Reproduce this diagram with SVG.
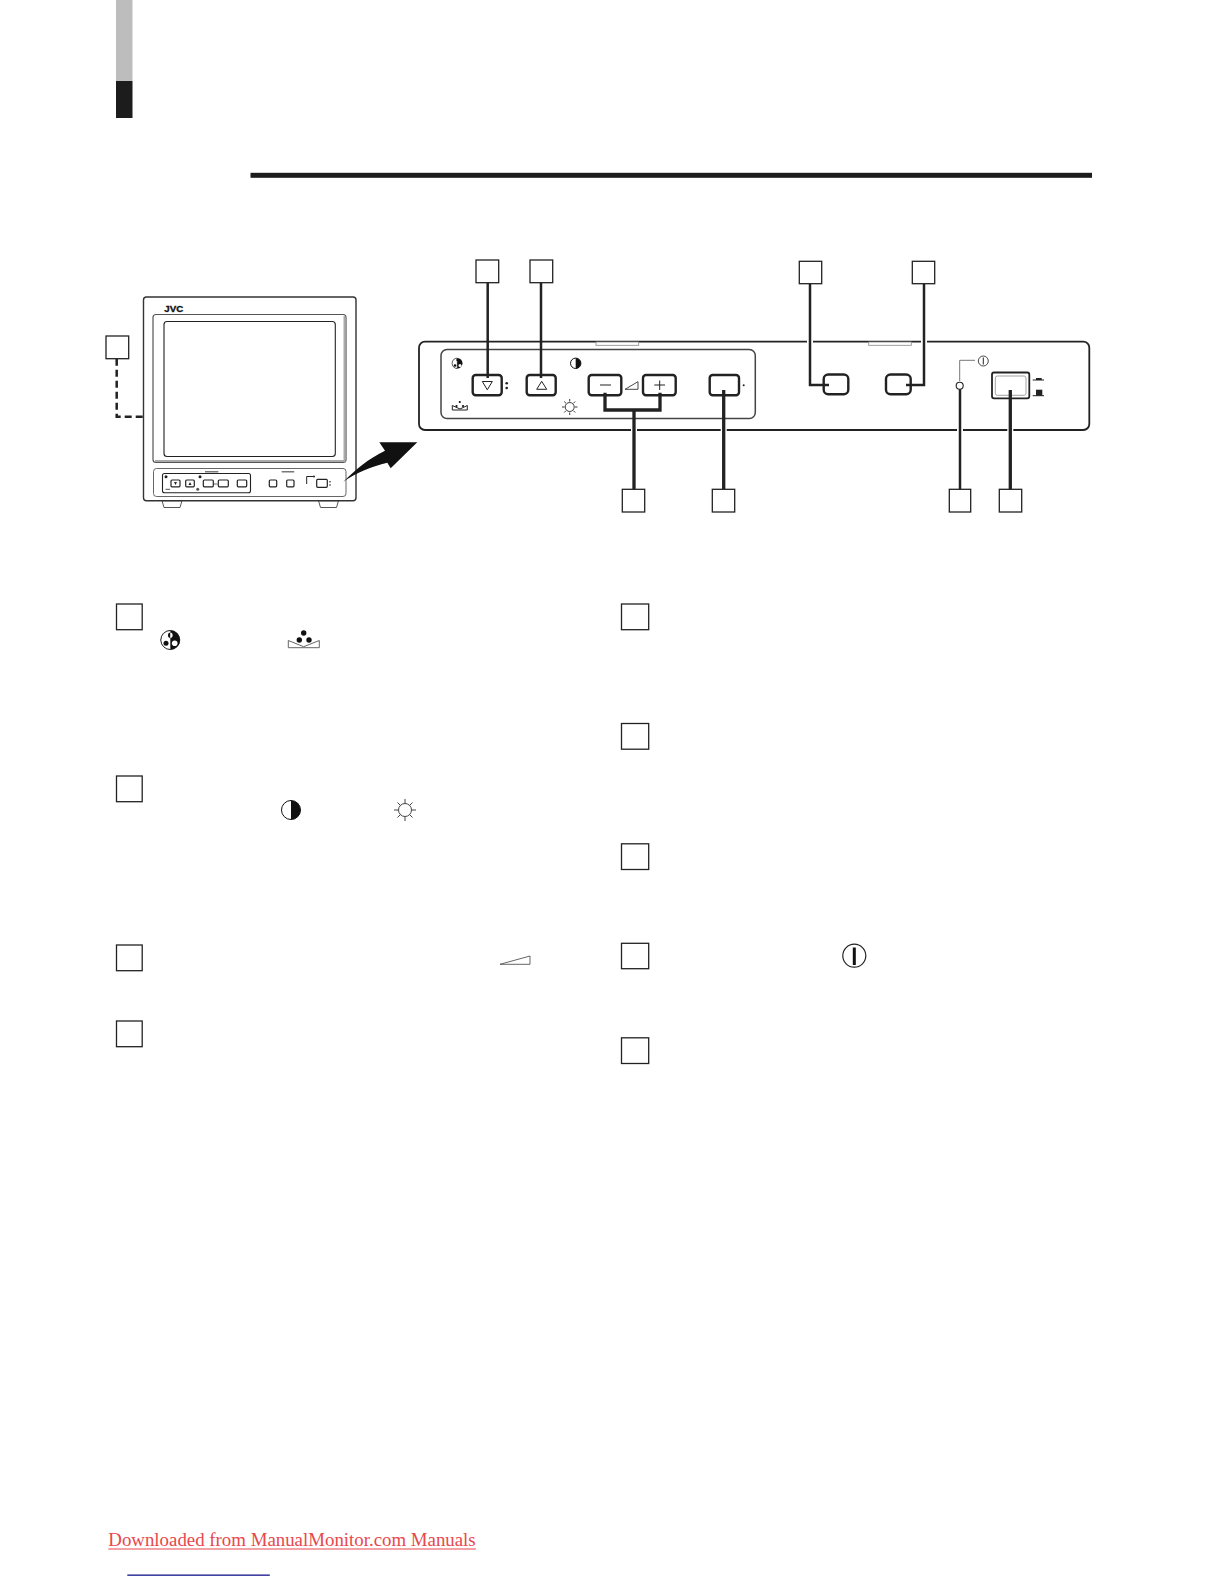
<svg xmlns="http://www.w3.org/2000/svg" width="1224" height="1584" viewBox="0 0 1224 1584">
<style>
.box{fill:#fff;stroke:#222;stroke-width:1.3}
.ld{fill:none;stroke:#222;stroke-width:2.5}
.ldb{fill:none;stroke:#222;stroke-width:3.3}
.halo{fill:none;stroke:#fff;stroke-width:6}
.btn{fill:#fff;stroke:#222;stroke-width:2.4}
.thin{fill:none;stroke:#222;stroke-width:1}
.sbtn{fill:#fff;stroke:#222;stroke-width:1.2}
</style>
<rect width="1224" height="1584" fill="#fff"/>
<g id="side-tab"><rect x="116" y="0" width="16.500" height="81" fill="#bdbdbd"/><rect x="116" y="81" width="16.500" height="37" fill="#1c1c1c"/></g>
<rect id="title-rule" x="250.500" y="172.800" width="841.500" height="5" fill="#1c1c1c"/>

<g id="monitor">
<path d="M162 500.700L164 507.500H180L182 500.700Z" fill="#fff" stroke="#555"/>
<path d="M318.500 500.700L320.500 507.500H336.500L338.500 500.700Z" fill="#fff" stroke="#555"/>
<rect x="143.500" y="297" width="212.500" height="203.700" rx="3" fill="#fff" stroke="#333" stroke-width="1.400"/>
<text x="164.300" y="312" font-family="'Liberation Sans',sans-serif" font-weight="bold" font-size="8.600" textLength="19" lengthAdjust="spacingAndGlyphs" fill="#111" stroke="#111" stroke-width=".3">JVC</text>
<rect x="153" y="314.500" width="193" height="148" rx="3" fill="#fff" stroke="#555" stroke-width="1.200"/>
<path d="M344.500 316V461H155" fill="none" stroke="#aaa" stroke-width="2"/>
<rect x="164" y="321.500" width="171.300" height="135" rx="3" fill="#fff" stroke="#222" stroke-width="1.100"/>
<rect x="153.500" y="468.500" width="192.500" height="28" rx="3" fill="#fff" stroke="#666" stroke-width="1"/>
<rect x="162.500" y="473.500" width="88" height="19.200" rx="2" fill="#fff" stroke="#222" stroke-width="1.100"/>
<rect x="205" y="471" width="13.300" height="1.500" fill="#777"/><rect x="281.700" y="471" width="12.500" height="1.500" fill="#777"/>
<rect x="171" y="480" width="9" height="6.800" rx="1" class="sbtn"/><rect x="185.700" y="480" width="8.600" height="6.800" rx="1" class="sbtn"/>
<path d="M174 482h3l-1.500 3ZM188.500 485h3l-1.500-3Z" fill="#222"/>
<rect x="203.300" y="480" width="10" height="6.800" rx="1" class="sbtn"/><rect x="218.300" y="480" width="10" height="6.800" rx="1" class="sbtn"/><rect x="237.300" y="480" width="9.400" height="6.800" rx="1" class="sbtn"/>
<path d="M214 484h3.500" stroke="#444" stroke-width=".8"/>
<rect x="269.300" y="480" width="7.400" height="6.800" rx="1" class="sbtn"/><rect x="286.700" y="480" width="7.300" height="6.800" rx="1" class="sbtn"/>
<rect x="316.700" y="479.300" width="10.600" height="8" rx="1" class="sbtn"/>
<path d="M306.700 484V476.500H313" class="thin" stroke-width=".8"/>
<circle cx="314" cy="476.500" r="1" fill="#222"/><circle cx="330" cy="481.700" r=".8" fill="#222"/><circle cx="330" cy="485" r=".8" fill="#222"/>
<circle cx="166" cy="476.700" r="1.500" fill="#222"/><circle cx="200" cy="476.700" r="1.500" fill="#222"/><circle cx="197.700" cy="489.300" r="1.500" fill="#555"/>
<rect x="165.500" y="488.800" width="4.500" height="1" fill="#555"/>
</g>
<path id="zoom-arrow" d="M343.300 481.700C355 470 368 459 385 450.700L379.300 442.300 417.300 442.300 390.700 468.300 387.300 462.700C372 466 356 473 343.300 481.700Z" fill="#111"/>

<g id="panel">
<rect x="419" y="341.700" width="670.300" height="88.300" rx="6" fill="#fff" stroke="#222" stroke-width="1.800"/>
<rect x="596" y="342" width="42.700" height="3.300" fill="#fff" stroke="#888" stroke-width=".8"/>
<rect x="868.700" y="342" width="42.600" height="3.300" fill="#fff" stroke="#888" stroke-width=".8"/>
<rect x="441" y="349.500" width="314.300" height="69" rx="6" fill="#fff" stroke="#444" stroke-width="1.500"/>
<circle cx="457.300" cy="363.300" r="5.200" fill="#111"/><path d="M457.300 358.100a5.200 5.200 0 0 0 0 10.400Z" fill="#fff" stroke="#111" stroke-width=".6"/><circle cx="457.500" cy="360" r="1.200" fill="#111"/><circle cx="455" cy="365.500" r="1.300" fill="#111"/><circle cx="460" cy="365.500" r="1.500" fill="#fff"/>
<circle cx="575.700" cy="363.300" r="5.200" fill="#fff" stroke="#111" stroke-width="1"/><path d="M575.700 358.100a5.200 5.200 0 0 1 0 10.400Z" fill="#111"/>
<path d="M452.300 405.500L460 409 467.300 405.500M452.300 405.500V410H467.300V405.500" class="thin" stroke-width=".8"/><circle cx="459.800" cy="402" r="1.100" fill="#111"/><circle cx="456.500" cy="406" r="1.100" fill="#111"/><circle cx="463" cy="406" r="1.100" fill="#111"/>
<g id="sun-small" stroke="#222" stroke-width=".9"><circle cx="569.700" cy="407" r="4.500" fill="none"/><path d="M569.700 399v2.500M569.700 412.500v2.500M562 407h2.500M575 407h2.500M564.200 401.500l1.800 1.800M573.400 410.700l1.800 1.800M575.200 401.500l-1.800 1.800M566 410.700l-1.800 1.800"/></g>
<rect x="472.700" y="375" width="29" height="20.300" rx="3" class="btn"/>
<rect x="526.700" y="375" width="29" height="20.300" rx="3" class="btn"/>
<rect x="588.700" y="375" width="32.600" height="20.300" rx="3" class="btn"/>
<rect x="643" y="375" width="32.700" height="20.300" rx="3" class="btn"/>
<rect x="709.700" y="375" width="29.300" height="20.300" rx="3" class="btn"/>
<path d="M482.300 381.500h10l-5 8.300Z" class="thin"/>
<path d="M536.700 389.300h10l-5-8Z" class="thin"/>
<path d="M600 385h11M654.300 385h10.700M659.700 380.500v9.500" class="thin" stroke-width="1.300"/>
<path d="M625 389.300h13v-7.600Z" fill="#fff" stroke="#333" stroke-width=".9"/>
<circle cx="506.700" cy="383.300" r="1.300" fill="#222"/><circle cx="506.700" cy="388" r="1.300" fill="#222"/><circle cx="743.700" cy="385.300" r="1" fill="#222"/>
<rect x="823.700" y="374.500" width="24.600" height="19.800" rx="4.500" class="btn"/>
<rect x="886" y="374.500" width="24.700" height="19.800" rx="4.500" class="btn"/>
<path d="M975 360.300H959.700V381" fill="none" stroke="#777" stroke-width="1"/>
<circle cx="983.300" cy="361" r="5" fill="#fff" stroke="#333" stroke-width=".9"/><path d="M983.300 357.500v7" stroke="#222" stroke-width="1"/>
<rect x="992" y="372.500" width="37.300" height="25.800" rx="2" fill="#fff" stroke="#222" stroke-width="1.800"/>
<rect x="995.300" y="376" width="30.700" height="19.300" rx="2" fill="none" stroke="#999" stroke-width=".9"/>
<path d="M1032.700 380h11.300" stroke="#222" stroke-width="1"/><rect x="1036" y="378" width="5.700" height="2" fill="#222"/>
<path d="M1032.700 395.700h11.300" stroke="#222" stroke-width="1"/><rect x="1036" y="389.700" width="6.300" height="6" fill="#222"/>
</g>

<g id="connectors">
<path d="M116.700 358.700V416.700H142.700" fill="none" stroke="#222" stroke-width="2.500" stroke-dasharray="7 4"/>
<path d="M810 338V346M924 338V346M960 426V434M1010.300 426V434M634 426V434M723.700 426V434" class="halo"/>
<path d="M487.700 282.700V378" class="ld"/>
<path d="M541 282.700V378" class="ld"/>
<path d="M605 392.700V410H660V392.700M634 410V489.300" class="ldb" stroke-width="3"/>
<path d="M723.700 390V489.300" class="ldb"/>
<path d="M810 283.700V385H829" class="ld"/>
<path d="M924 283.700V385H906" class="ld"/>
<circle cx="959.700" cy="385.700" r="3.500" fill="#fff" stroke="#222" stroke-width="1.100"/>
<path d="M960 389.200V489.300" class="ld"/>
<path d="M1010.300 390V489.300" class="ldb"/>
</g>

<g id="callouts">
<rect id="c1" x="106" y="336" width="22.700" height="22.700" class="box"/>
<rect id="c2" x="476" y="260" width="22.700" height="22.700" class="box"/>
<rect id="c3" x="530" y="260" width="22.700" height="22.700" class="box"/>
<rect id="c4" x="799.300" y="261.300" width="22.400" height="22.400" class="box"/>
<rect id="c5" x="912.300" y="261.300" width="22.400" height="22.400" class="box"/>
<rect id="c6" x="622.300" y="489.300" width="22.400" height="22.700" class="box"/>
<rect id="c7" x="712.300" y="489.300" width="22.400" height="22.700" class="box"/>
<rect id="c8" x="949.300" y="489.300" width="21.400" height="22.700" class="box"/>
<rect id="c9" x="999.300" y="489.300" width="22.400" height="22.700" class="box"/>
</g>

<g id="list-left">
<rect x="116.500" y="604" width="25.700" height="25.700" class="box"/>
<rect x="116.500" y="776" width="25.700" height="25.700" class="box"/>
<rect x="116.500" y="945" width="25.700" height="25.700" class="box"/>
<rect x="116.500" y="1021" width="25.700" height="25.700" class="box"/>
<g id="icon-color"><circle cx="170.300" cy="640" r="9.700" fill="#111"/><path d="M170.300 630.600a9.400 9.400 0 0 0 0 18.800Z" fill="#fff"/><circle cx="170.300" cy="640" r="9.500" fill="none" stroke="#111" stroke-width=".8"/><path d="M170.300 632.500a2.300 2.800 0 0 0 0 5.600Z" fill="#111"/><path d="M170.300 632.500a2.300 2.800 0 0 1 0 5.600Z" fill="#fff"/><circle cx="166" cy="643.300" r="2.500" fill="#111"/><circle cx="174.700" cy="643.300" r="2.800" fill="#fff"/></g>
<g id="icon-tint"><path d="M288.300 647.700V640.500L303.700 646.700 319.300 640.500V647.700Z" fill="#fff" stroke="#666" stroke-width="1"/><circle cx="303.700" cy="633" r="2.700" fill="#111"/><circle cx="299.300" cy="640" r="2.700" fill="#111"/><circle cx="309" cy="640" r="2.700" fill="#111"/></g>
<g id="icon-contrast"><circle cx="291" cy="810" r="9.500" fill="#fff" stroke="#111" stroke-width="1"/><path d="M291 800.500a9.500 9.500 0 0 1 0 19Z" fill="#111"/></g>
<g id="icon-bright" stroke="#444" stroke-width="1"><circle cx="405" cy="810" r="6.500" fill="#fff"/><path d="M405 799v4M405 817v4M394 810h4M412 810h4M397.500 802.500l3 3M409.500 814.500l3 3M412.500 802.500l-3 3M400.500 814.500l-3 3"/></g>
<path id="icon-volume" d="M500 964.300L530 956V964.300Z" fill="#fff" stroke="#555" stroke-width=".9"/>
</g>

<g id="list-right">
<rect x="621.500" y="604" width="27.200" height="25.700" class="box"/>
<rect x="621.500" y="723.500" width="27.200" height="25.700" class="box"/>
<rect x="621.500" y="843.800" width="27.200" height="25.700" class="box"/>
<rect x="621.500" y="943.300" width="27.200" height="25.400" class="box"/>
<rect x="621.500" y="1037.800" width="27.200" height="25.700" class="box"/>
<g id="icon-power"><circle cx="854.300" cy="955.700" r="11.500" fill="#fff" stroke="#222" stroke-width="1.200"/><rect x="852.800" y="947.500" width="3" height="17.500" fill="#111"/></g>
</g>

<g id="footer">
<text x="108.300" y="1546" font-family="'Liberation Serif',serif" font-size="18.850" fill="#e8474c">Downloaded from ManualMonitor.com Manuals</text>
<rect x="108.300" y="1548.500" width="367.500" height="1" fill="#e8474c"/>
<rect x="127.300" y="1574.500" width="142.500" height="1.300" fill="#14148c"/>
</g>
</svg>
